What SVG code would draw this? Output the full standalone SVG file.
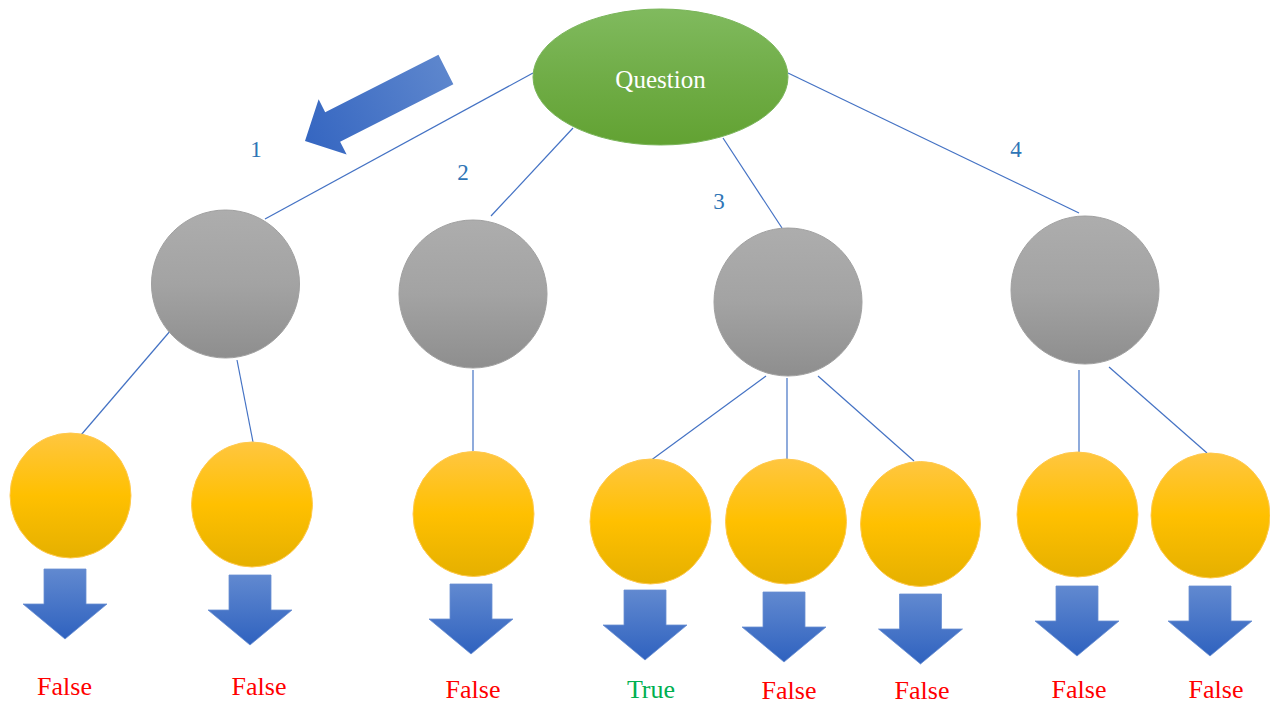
<svg xmlns="http://www.w3.org/2000/svg" width="1270" height="705" viewBox="0 0 1270 705">
<defs>
<linearGradient id="gGreen" x1="0" y1="0" x2="0" y2="1"><stop offset="0" stop-color="#80ba5e"/><stop offset="0.5" stop-color="#70ad47"/><stop offset="1" stop-color="#62a232"/></linearGradient>
<linearGradient id="gGray" x1="0" y1="0" x2="0" y2="1"><stop offset="0" stop-color="#adadad"/><stop offset="0.5" stop-color="#a3a3a3"/><stop offset="1" stop-color="#8e8e8e"/></linearGradient>
<linearGradient id="gYel" x1="0" y1="0" x2="0" y2="1"><stop offset="0" stop-color="#ffc640"/><stop offset="0.5" stop-color="#ffc000"/><stop offset="1" stop-color="#e5b000"/></linearGradient>
<linearGradient id="gBlue" x1="0" y1="0" x2="0" y2="1"><stop offset="0" stop-color="#6189d0"/><stop offset="1" stop-color="#2f62bf"/></linearGradient>
<linearGradient id="gBig" x1="1" y1="0" x2="0" y2="0"><stop offset="0" stop-color="#3566c1"/><stop offset="1" stop-color="#5d86cd"/></linearGradient>
<path id="darr" d="M-21,0 H21 V35 H42 L0,70 L-42,35 H-21 Z"/>
</defs>
<style>
.conn line{stroke:#4472c4;stroke-width:1.2;fill:none}
.gray{fill:url(#gGray);stroke:#a0a0a0;stroke-width:1}
.leaf{fill:url(#gYel);stroke:#ffc94d;stroke-width:1}
.darr{fill:url(#gBlue);stroke:#6a8fd2;stroke-width:0.8}
.res{font-family:"Liberation Serif",serif;font-size:26px;text-anchor:middle}
.f{fill:#ff0000}
.t{fill:#00b050}
.num{font-family:"Liberation Serif",serif;font-size:23px;fill:#2e75b6;text-anchor:middle}
</style>
<rect width="1270" height="705" fill="#ffffff"/>
<g id="connectors" class="conn">
<line x1="533" y1="73" x2="265" y2="219"/>
<line x1="573" y1="128" x2="491" y2="216"/>
<line x1="723" y1="138" x2="782" y2="228"/>
<line x1="788" y1="73" x2="1079" y2="213"/>
<line x1="171" y1="330" x2="81" y2="435"/>
<line x1="237" y1="360" x2="253" y2="442"/>
<line x1="473" y1="370" x2="473" y2="451"/>
<line x1="766" y1="376" x2="650" y2="461"/>
<line x1="787" y1="378" x2="787" y2="459"/>
<line x1="818" y1="376" x2="914" y2="461"/>
<line x1="1079" y1="370" x2="1079" y2="452"/>
<line x1="1109" y1="367" x2="1207" y2="453"/>
</g>
<g id="bigArrow">
<path transform="translate(305,141) rotate(153.1)" d="M-158,-16.5 H-31 V-31 L0,0 L-31,31 V16.5 H-158 Z" fill="url(#gBig)"/>
</g>
<g id="question">
<ellipse cx="660.5" cy="77" rx="127.5" ry="68" fill="url(#gGreen)" stroke="#7ab55a" stroke-width="1"/>
<text x="660.5" y="88" font-family="Liberation Serif, serif" font-size="25" fill="#ffffff" text-anchor="middle">Question</text>
</g>
<g id="labels">
<text class="num" x="256" y="157">1</text>
<text class="num" x="463" y="180">2</text>
<text class="num" x="719" y="209">3</text>
<text class="num" x="1016" y="157">4</text>
</g>
<g id="node1"><circle class="gray" cx="225.5" cy="284" r="74"/></g>
<g id="node2"><circle class="gray" cx="473" cy="294" r="74"/></g>
<g id="node3"><circle class="gray" cx="788" cy="302" r="74"/></g>
<g id="node4"><circle class="gray" cx="1085" cy="290" r="74"/></g>
<g id="leaf1"><ellipse class="leaf" cx="70.5" cy="495.5" rx="60.5" ry="62.5"/><use href="#darr" class="darr" x="65" y="569"/><text class="res f" x="64.5" y="695">False</text></g>
<g id="leaf2"><ellipse class="leaf" cx="252" cy="504.5" rx="60.5" ry="62.5"/><use href="#darr" class="darr" x="250" y="575"/><text class="res f" x="259" y="695">False</text></g>
<g id="leaf3"><ellipse class="leaf" cx="473.5" cy="514" rx="60.5" ry="62.5"/><use href="#darr" class="darr" x="471" y="584"/><text class="res f" x="473" y="698">False</text></g>
<g id="leaf4"><ellipse class="leaf" cx="650.5" cy="521.5" rx="60.5" ry="62.5"/><use href="#darr" class="darr" x="645" y="590"/><text class="res t" x="651" y="698">True</text></g>
<g id="leaf5"><ellipse class="leaf" cx="786" cy="521.5" rx="60.5" ry="62.5"/><use href="#darr" class="darr" x="784" y="592"/><text class="res f" x="789" y="699">False</text></g>
<g id="leaf6"><ellipse class="leaf" cx="920.5" cy="524" rx="60" ry="62.5"/><use href="#darr" class="darr" x="920.5" y="594"/><text class="res f" x="922" y="699">False</text></g>
<g id="leaf7"><ellipse class="leaf" cx="1077.5" cy="514.5" rx="60.5" ry="62.5"/><use href="#darr" class="darr" x="1077" y="586"/><text class="res f" x="1079" y="698">False</text></g>
<g id="leaf8"><ellipse class="leaf" cx="1210.5" cy="515.5" rx="59.5" ry="62.5"/><use href="#darr" class="darr" x="1210" y="586"/><text class="res f" x="1216" y="698">False</text></g>
</svg>
